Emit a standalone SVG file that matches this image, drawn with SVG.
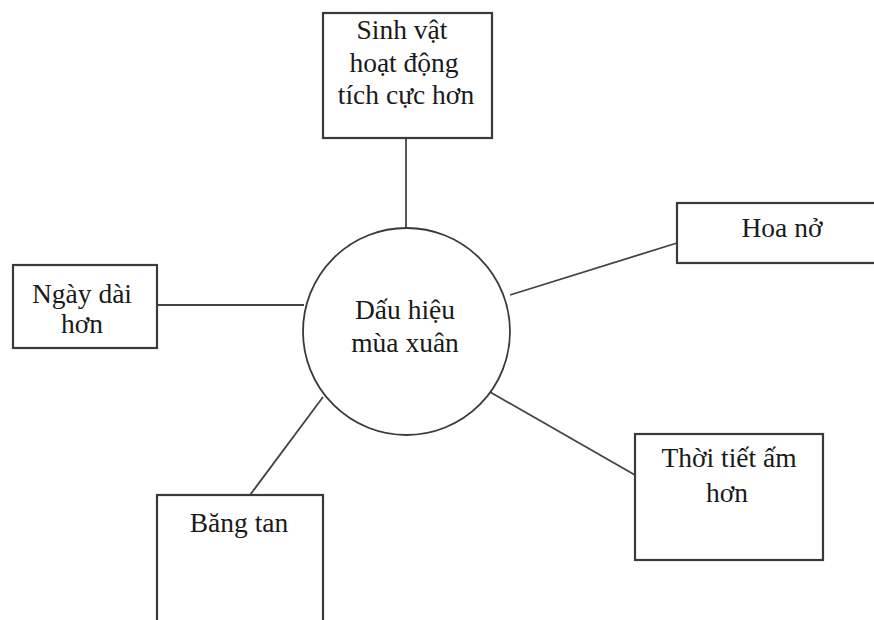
<svg xmlns="http://www.w3.org/2000/svg" width="874" height="620" viewBox="0 0 874 620">
<style>
.box{fill:#fff;stroke:#3a3a3a;stroke-width:2.2}
.circ{fill:#fff;stroke:#3a3a3a;stroke-width:1.8}
.ln{stroke:#444;stroke-width:1.8;fill:none}
text{font-family:"Liberation Serif","Times New Roman",serif;font-size:27.5px;fill:#1a1a1a;text-anchor:middle}
</style>
<rect width="874" height="620" fill="#fff"/>
<g id="connectors">
<line class="ln" x1="406" y1="138" x2="406" y2="228"/>
<line class="ln" x1="510" y1="295" x2="677" y2="243"/>
<line class="ln" x1="157" y1="305" x2="304" y2="305"/>
<line class="ln" x1="490" y1="392" x2="635" y2="475"/>
<line class="ln" x1="323" y1="397" x2="250" y2="495"/>
</g>
<g id="center">
<circle class="circ" cx="406.5" cy="331.5" r="103.5"/>
<text x="405" y="319">Dấu hiệu</text>
<text x="405" y="352">mùa xuân</text>
</g>
<g id="sinh-vat">
<rect class="box" x="323" y="13" width="169" height="125"/>
<text x="402" y="39">Sinh vật</text>
<text x="404" y="72">hoạt động</text>
<text x="406" y="104">tích cực hơn</text>
</g>
<g id="hoa-no">
<rect class="box" x="677" y="203" width="215" height="60"/>
<text x="782" y="237">Hoa nở</text>
</g>
<g id="ngay-dai">
<rect class="box" x="13" y="265" width="144" height="83"/>
<text x="82" y="303">Ngày dài</text>
<text x="82" y="333">hơn</text>
</g>
<g id="thoi-tiet">
<rect class="box" x="635" y="434" width="188" height="126"/>
<text x="729" y="467">Thời tiết ấm</text>
<text x="727" y="502">hơn</text>
</g>
<g id="bang-tan">
<rect class="box" x="157" y="495" width="166" height="140"/>
<text x="239" y="532">Băng tan</text>
</g>
</svg>
